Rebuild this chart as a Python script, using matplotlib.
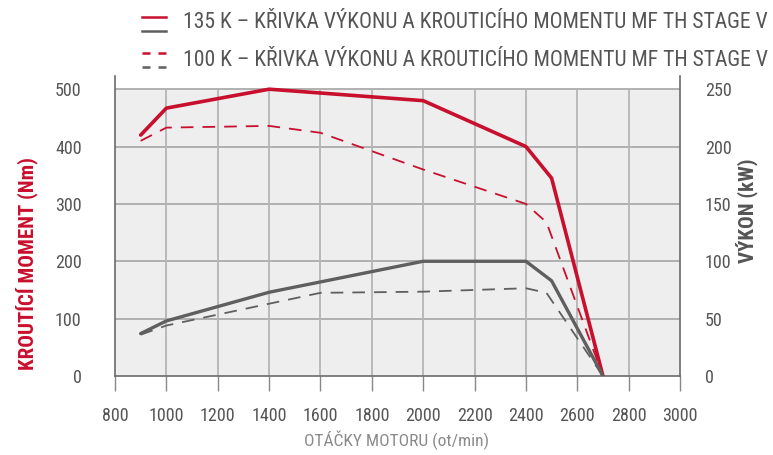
import numpy as np
import matplotlib
matplotlib.use("Agg")
import matplotlib.pyplot as plt
import matplotlib.font_manager as fm
from matplotlib.lines import Line2D

# condensed font similar to the original
installed = {f.name for f in fm.fontManager.ttflist}
font = 'DejaVu Sans'
for name in ['Roboto Condensed', 'Archivo Narrow', 'Asap Condensed', 'Barlow Condensed',
             'Liberation Sans Narrow']:
    if name in installed:
        font = name
        break
plt.rcParams['font.family'] = [font, 'DejaVu Sans']

RED = '#c8102e'
GREY = '#5f5f5f'
TXT = '#555555'

# 135 K curves (left axis units, Nm scale)
rpm_135 = [900, 1000, 1400, 2000, 2400, 2500, 2700]
red_135 = [420, 467, 500, 480, 400, 345, 0]
grey_135 = [74, 96, 146, 200, 200, 166, 0]

# 100 K curves
rpm_100_red = [900, 1000, 1400, 1600, 2000, 2400, 2480, 2700]
red_100 = [410, 433, 436, 424, 360, 300, 268, 0]
rpm_100_grey = [900, 1000, 1600, 2000, 2400, 2480, 2700]
grey_100 = [72, 88, 145, 147, 153, 145, 0]

x_ticks = list(range(800, 3001, 200))
y_ticks = [0, 100, 200, 300, 400, 500]
y2_ticks = [0, 50, 100, 150, 200, 250]

legend_labels = ['135 K – KŘIVKA VÝKONU A KROUTICÍHO MOMENTU MF TH STAGE V',
                 '100 K – KŘIVKA VÝKONU A KROUTICÍHO MOMENTU MF TH STAGE V']

fig = plt.figure(figsize=(7.73, 4.55), dpi=100)
ax = fig.add_axes([115 / 773, 1 - 376 / 455, 565 / 773, 300 / 455])
ax.set_facecolor('white')
ax.set_xlim(800, 3000)
ax.set_ylim(0, 523)

# background and grid only up to 500
ax.axhspan(0, 500, color='#eeeeee', zorder=0, lw=0)
ax.hlines(y_ticks[1:], 800, 3000, color='#ababab', lw=1.3, zorder=1)
ax.vlines(x_ticks[1:-1], 0, 500, color='#b5b5b5', lw=1.3, zorder=1)

ax.plot(rpm_100_red, red_100, color=RED, lw=1.3, dashes=(7, 5), zorder=3)
ax.plot(rpm_100_grey, grey_100, color=GREY, lw=1.3, dashes=(7, 5), zorder=3)
ax.plot(rpm_135, red_135, color=RED, lw=2.6, zorder=4, solid_capstyle='round')
ax.plot(rpm_135, grey_135, color=GREY, lw=2.4, zorder=4, solid_capstyle='round')

ax.spines['top'].set_visible(False)
for s in ['left', 'right', 'bottom']:
    ax.spines[s].set_color('#6a6a6a')
    ax.spines[s].set_linewidth(1.2)

ax.set_xticks(x_ticks)
ax.set_xticklabels([str(v) for v in x_ticks])
ax.tick_params(axis='x', direction='out', length=11, width=1, color='#888888',
               labelsize=13, labelcolor=TXT, pad=11)
ax.set_yticks(y_ticks)
ax.set_yticklabels([str(v) for v in y_ticks])
ax.tick_params(axis='y', length=0, labelsize=13, labelcolor=TXT, pad=24)
ax.set_yticks([0], minor=True)
ax.tick_params(axis='y', which='minor', length=12, width=1.2, color='#6a6a6a')

ax2 = ax.twinx()
ax2.set_ylim(0, 261.5)
ax2.set_yticks(y2_ticks)
ax2.set_yticklabels([str(v) for v in y2_ticks])
ax2.tick_params(axis='y', length=0, labelsize=13, labelcolor=TXT, pad=18)
for s in ['top', 'left', 'bottom', 'right']:
    ax2.spines[s].set_visible(False)

fig.text(27 / 773, 1 - 263 / 455, 'KROUTÍCÍ MOMENT (Nm)', rotation=90, color=RED,
         fontsize=15, fontweight='bold', ha='center', va='center')
fig.text(747 / 773, 1 - 211 / 455, 'VÝKON (kW)', rotation=90, color=TXT,
         fontsize=15, fontweight='bold', ha='center', va='center')
fig.text(397 / 773, 1 - 440 / 455, 'OTÁČKY MOTORU (ot/min)', color='#8a8a8a',
         fontsize=12.5, ha='center', va='center')

# legend
def fy(y):
    return 1 - y / 455

x0, x1 = 142 / 773, 166 / 773
fig.add_artist(Line2D([x0, x1], [fy(17), fy(17)], color=RED, lw=1.8))
fig.add_artist(Line2D([x0, x1], [fy(31), fy(31)], color=GREY, lw=1.8))
fig.add_artist(Line2D([x0, x1], [fy(53), fy(53)], color=RED, lw=1.8, dashes=(3.2, 3.2)))
fig.add_artist(Line2D([x0, x1], [fy(67), fy(67)], color=GREY, lw=1.8, dashes=(3.2, 3.2)))
fig.text(183 / 773, fy(23), legend_labels[0], color=TXT, fontsize=15.6, va='center', ha='left')
fig.text(183 / 773, fy(60), legend_labels[1], color=TXT, fontsize=15.6, va='center', ha='left')

fig.savefig('out.png', dpi=100)
